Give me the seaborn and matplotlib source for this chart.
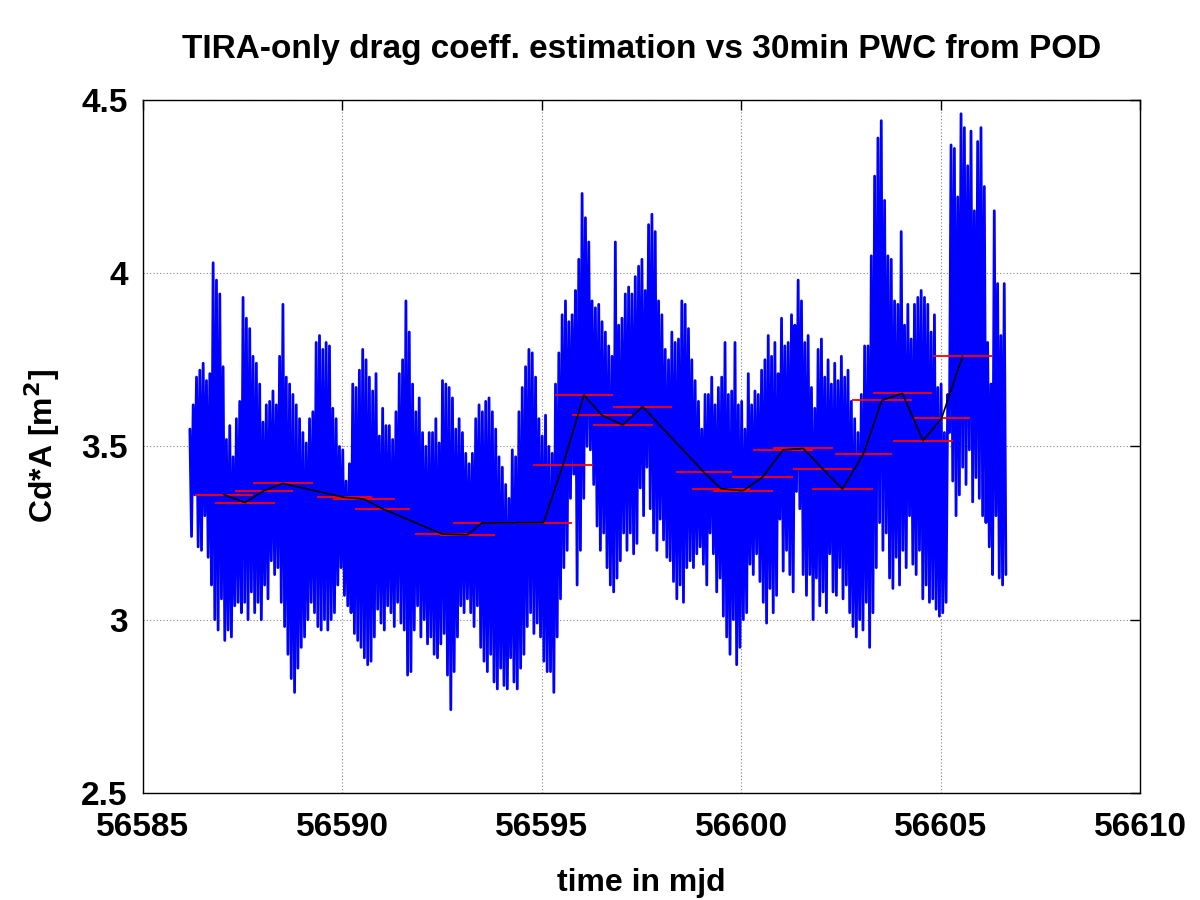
import numpy as np
import pandas as pd
import matplotlib
matplotlib.use("Agg")
import matplotlib.pyplot as plt
import seaborn as sns

# ---- POD 30min PWC: one high/low pair per spike, 12 spikes per day ----
t_start = 56586.18
spikes_per_day = 12

pod_high = [
    3.55, 3.62, 3.70, 3.72, 3.74, 3.69, 3.71, 4.03, 3.98, 3.94, 3.73, 3.52,
    3.56, 3.47, 3.58, 3.63, 3.93, 3.87, 3.84, 3.76, 3.74, 3.68, 3.57, 3.62,
    3.63, 3.66, 3.62, 3.76, 3.91, 3.70, 3.68, 3.65, 3.62, 3.58, 3.54, 3.51,
    3.58, 3.60, 3.80, 3.82, 3.78, 3.80, 3.79, 3.61, 3.58, 3.50, 3.49, 3.40,
    3.45, 3.68, 3.67, 3.72, 3.78, 3.75, 3.70, 3.66, 3.71, 3.53, 3.61, 3.56,
    3.56, 3.52, 3.60, 3.71, 3.75, 3.92, 3.83, 3.68, 3.60, 3.64, 3.54, 3.50,
    3.54, 3.54, 3.58, 3.51, 3.69, 3.68, 3.67, 3.64, 3.55, 3.58, 3.54, 3.48,
    3.45, 3.48, 3.58, 3.62, 3.60, 3.63, 3.64, 3.60, 3.55, 3.47, 3.44, 3.39,
    3.35, 3.49, 3.47, 3.60, 3.67, 3.73, 3.78, 3.77, 3.70, 3.58, 3.53, 3.59,
    3.50, 3.48, 3.68, 3.77, 3.88, 3.92, 3.86, 3.88, 3.95, 4.04, 4.23, 4.16,
    4.09, 3.92, 3.90, 3.91, 3.86, 3.83, 3.79, 3.76, 4.09, 3.85, 3.87, 3.94,
    3.96, 3.94, 3.99, 4.02, 4.04, 3.95, 4.14, 4.17, 4.12, 3.92, 3.88, 3.78,
    3.75, 3.83, 3.80, 3.81, 3.92, 3.91, 3.84, 3.75, 3.69, 3.63, 3.55, 3.65,
    3.65, 3.70, 3.62, 3.67, 3.70, 3.80, 3.65, 3.66, 3.80, 3.62, 3.63, 3.55,
    3.71, 3.62, 3.66, 3.65, 3.72, 3.75, 3.82, 3.76, 3.80, 3.71, 3.87, 3.79,
    3.80, 3.88, 3.85, 3.98, 3.92, 3.80, 3.82, 3.67, 3.61, 3.78, 3.81, 3.70,
    3.75, 3.68, 3.74, 3.69, 3.76, 3.70, 3.72, 3.63, 3.58, 3.54, 3.65, 3.79,
    3.79, 4.05, 4.28, 4.39, 4.44, 4.21, 4.05, 4.04, 3.92, 3.91, 4.12, 3.85,
    3.91, 3.81, 3.91, 3.93, 3.95, 3.93, 3.91, 3.83, 3.88, 3.67, 3.68, 3.54,
    3.65, 4.37, 4.36, 4.22, 4.46, 4.42, 4.31, 4.41, 4.18, 4.38, 4.42, 4.25,
    3.80, 3.68, 4.18, 3.97, 3.82, 3.97,
]

pod_low = [
    3.24, 3.36, 3.21, 3.20, 3.30, 3.18, 3.10, 3.00, 2.97, 3.06, 2.94, 2.97,
    2.95, 3.04, 3.05, 3.02, 3.05, 3.00, 3.08, 3.02, 3.05, 3.00, 3.10, 3.06,
    3.17, 3.13, 3.15, 3.05, 2.98, 2.90, 2.83, 2.79, 2.86, 2.92, 2.95, 3.00,
    3.05, 3.02, 2.98, 2.97, 3.00, 2.97, 3.00, 3.02, 3.10, 3.15, 3.07, 3.04,
    3.02, 2.96, 2.94, 2.92, 2.89, 2.87, 2.88, 2.95, 3.03, 2.99, 2.97, 3.04,
    3.02, 2.98, 3.05, 2.99, 2.97, 2.84, 2.85, 2.97, 3.04, 2.95, 3.00, 2.93,
    2.95, 2.90, 2.89, 2.93, 2.96, 2.84, 2.74, 2.85, 2.95, 3.04, 3.02, 3.06,
    3.02, 2.98, 3.04, 2.92, 2.88, 2.85, 2.90, 2.82, 2.80, 2.86, 2.81, 2.80,
    2.89, 2.82, 2.80, 2.86, 2.90, 2.98, 3.02, 2.96, 2.99, 2.95, 2.88, 2.85,
    2.85, 2.79, 2.95, 3.06, 3.15, 3.20, 3.35, 3.42, 3.10, 3.20, 3.35, 3.50,
    3.49, 3.39, 3.27, 3.20, 3.25, 3.15, 3.10, 3.08, 3.12, 3.17, 3.25, 3.20,
    3.25, 3.19, 3.22, 3.38, 3.30, 3.44, 3.32, 3.25, 3.20, 3.29, 3.23, 3.18,
    3.17, 3.11, 3.06, 3.10, 3.05, 3.15, 3.17, 3.15, 3.19, 3.21, 3.16, 3.10,
    3.25, 3.19, 3.08, 3.12, 3.01, 2.95, 2.90, 3.00, 2.87, 2.92, 3.00, 3.02,
    3.16, 3.13, 3.19, 3.11, 3.05, 2.99, 3.09, 3.02, 3.07, 3.29, 3.14, 3.20,
    3.13, 3.08, 3.37, 3.32, 3.13, 3.07, 3.13, 3.00, 3.12, 3.04, 3.08, 3.02,
    3.19, 3.08, 3.07, 3.15, 3.06, 3.10, 3.02, 2.98, 2.95, 3.00, 2.97, 3.05,
    2.92, 3.02, 3.15, 3.28, 3.20, 3.25, 3.12, 3.09, 3.18, 3.10, 3.20, 3.15,
    3.30, 3.16, 3.13, 3.20, 3.06, 3.10, 3.05, 3.06, 3.03, 3.01, 3.02, 3.05,
    3.54, 3.40, 3.30, 3.36, 3.44, 3.39, 3.49, 3.34, 3.41, 3.35, 3.30, 3.28,
    3.21, 3.13, 3.30, 3.12, 3.10, 3.13,
]

# ---- TIRA-only estimates: piecewise constant arcs ----
arc_start = [56586.30, 56586.81, 56587.31, 56587.76, 56589.36, 56589.76,
             56590.32, 56591.82, 56592.45, 56592.77, 56594.33, 56594.78,
             56595.33, 56595.76, 56596.28, 56596.79, 56598.37, 56598.77,
             56599.29, 56599.77, 56600.30, 56600.80, 56601.30, 56601.78,
             56602.35, 56602.78, 56603.30, 56603.81, 56604.31, 56604.81]
arc_end = [56587.76, 56588.31, 56588.76, 56589.26, 56590.74, 56591.32,
           56591.70, 56593.20, 56593.83, 56594.23, 56595.76, 56596.28,
           56596.79, 56597.26, 56597.79, 56598.26, 56599.77, 56600.22,
           56600.80, 56601.30, 56601.80, 56602.31, 56602.78, 56603.30,
           56603.78, 56604.28, 56604.78, 56605.31, 56605.74, 56606.29]
arc_cd = [3.361, 3.338, 3.372, 3.393, 3.353, 3.348,
          3.320, 3.247, 3.245, 3.279, 3.280, 3.445,
          3.648, 3.590, 3.562, 3.615, 3.425, 3.378,
          3.372, 3.411, 3.490, 3.494, 3.436, 3.377,
          3.478, 3.633, 3.653, 3.517, 3.581, 3.760]

# build the POD series: high then low inside each spike
n = len(pod_high)
t_hi = t_start + np.arange(n) / spikes_per_day
t_lo = t_hi + 0.5 / spikes_per_day
pod = pd.DataFrame({
    "t": np.column_stack([t_hi, t_lo]).ravel(),
    "cd": np.column_stack([pod_high, pod_low]).ravel(),
})

arcs = pd.DataFrame({"start": arc_start, "end": arc_end, "cd": arc_cd})
arcs["mid"] = (arcs["start"] + arcs["end"]) / 2

sns.set_theme(style="white")
plt.rcParams["font.family"] = ["Liberation Sans", "DejaVu Sans"]
plt.rcParams["font.weight"] = "bold"
plt.rcParams["text.color"] = "black"
plt.rcParams["axes.labelcolor"] = "black"

fig, ax = plt.subplots(figsize=(12, 9), dpi=100)
fig.subplots_adjust(left=0.119, right=0.95, top=0.889, bottom=0.119)

sns.lineplot(data=pod, x="t", y="cd", sort=False, estimator=None,
             color="#0000ff", lw=2.0, ax=ax, zorder=2)
ax.hlines(arcs["cd"], arcs["start"], arcs["end"], colors="#ff0000",
          lw=1.3, zorder=3)
sns.lineplot(data=arcs, x="mid", y="cd", sort=False, estimator=None,
             color="black", lw=1.2, ax=ax, zorder=4)

ax.set_xlim(56585, 56610)
ax.set_ylim(2.5, 4.5)
ax.set_xticks([56585, 56590, 56595, 56600, 56605, 56610])
ax.set_xticklabels(["56585", "56590", "56595", "56600", "56605", "56610"])
ax.set_yticks([2.5, 3, 3.5, 4, 4.5])
ax.set_yticklabels(["2.5", "3", "3.5", "4", "4.5"])
ax.grid(True, color="#888888", ls=(0, (1, 2)), lw=0.8)
ax.tick_params(direction="in", length=7, width=1, top=True, right=True,
               labelsize=24, colors="black")
ax.tick_params(axis="x", pad=14)
ax.tick_params(axis="y", pad=11)
for lbl in ax.get_xticklabels() + ax.get_yticklabels():
    lbl.set_fontweight("bold")
for s in ax.spines.values():
    s.set_color("black")
    s.set_linewidth(1.0)

ax.set_xlabel("time in mjd", fontsize=23, fontweight="bold", labelpad=18)
ax.set_ylabel("Cd*A [m$^\\mathbf{2}$]", fontsize=23, fontweight="bold",
              labelpad=14)
ax.set_title("TIRA-only drag coeff. estimation vs 30min PWC from POD",
             fontsize=24, fontweight="bold", pad=30)

fig.savefig("out.png", dpi=100)
